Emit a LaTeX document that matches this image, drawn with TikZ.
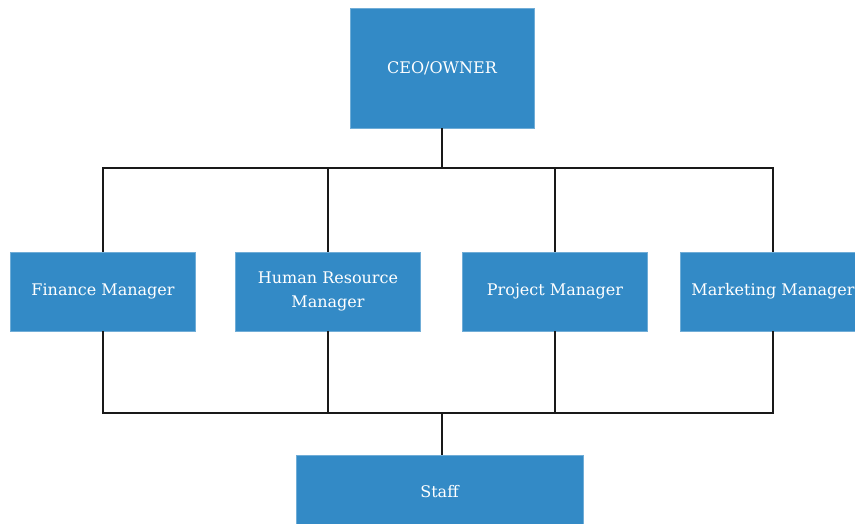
\documentclass[tikz,border=0pt]{standalone}
\usepackage{fontspec}
\setmainfont{DejaVu Serif}
\definecolor{boxblue}{HTML}{338AC6}
\begin{document}
\begin{tikzpicture}[x=1pt,y=-1pt,
  box/.style={fill=boxblue, draw=boxblue!70!white, line width=0.6pt, text=white, align=center,
    font=\fontsize{16}{24}\selectfont, inner sep=0pt},
  conn/.style={line width=2pt, black!90}]
\clip (0,0) rectangle (855,524);
\useasboundingbox (0,0) rectangle (855,524);
\fill[white] (0,0) rectangle (855,524);
\node[box, minimum width=184pt, minimum height=120pt] (ceo) at (442,68) {CEO/OWNER};
\node[box, minimum width=185pt, minimum height=79pt] (fin) at (103,291.5) {Finance Manager};
\node[box, minimum width=185pt, minimum height=79pt] (hr) at (328,291.5) {Human Resource\\Manager};
\node[box, minimum width=185pt, minimum height=79pt] (pm) at (555,291.5) {Project Manager};
\node[box, minimum width=185pt, minimum height=79pt] (mm) at (773,291.5) {Marketing Manager};
\node[box, minimum width=287pt, minimum height=100pt] (staff) at (439.5,505) {};
\node[text=white, font=\fontsize{16}{24}\selectfont] (stafftext) at (439.5,492) {Staff};
\coordinate (top) at (442,168);
\coordinate (bot) at (442,413);
\draw[conn] (ceo.south) -- (top);
\draw[conn] (fin.north) |- (top) -| (mm.north);
\draw[conn] (hr.north) -- (hr.north |- top);
\draw[conn] (pm.north) -- (pm.north |- top);
\draw[conn] (fin.south) |- (bot) -| (mm.south);
\draw[conn] (hr.south) -- (hr.south |- bot);
\draw[conn] (pm.south) -- (pm.south |- bot);
\draw[conn] (bot) -- (bot |- staff.north);
\end{tikzpicture}
\end{document}
